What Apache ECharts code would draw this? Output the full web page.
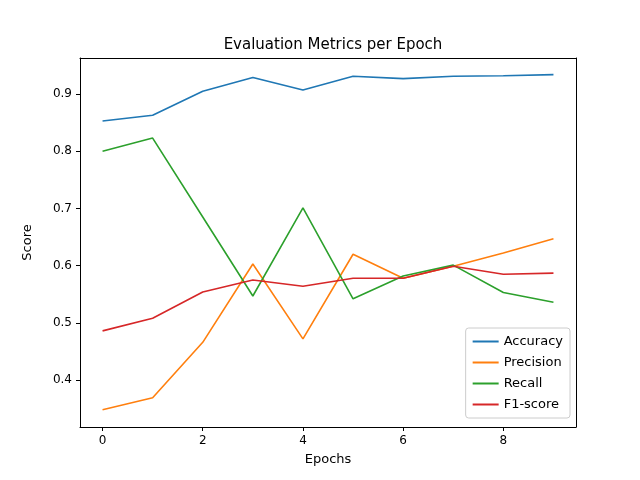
<!DOCTYPE html>
<html>
<head>
<meta charset="utf-8">
<script src="https://cdn.jsdelivr.net/npm/echarts@6/dist/echarts.min.js"></script>
<style>html,body{margin:0;padding:0;background:#fff}#c{width:640px;height:480px}</style>
</head>
<body>
<div id="c"></div>
<script>
// epochs and metric values
const epochs = [0, 1, 2, 3, 4, 5, 6, 7, 8, 9];
const accuracy = [0.853, 0.863, 0.905, 0.929, 0.907, 0.931, 0.927, 0.931, 0.932, 0.934];
const precision = [0.348, 0.369, 0.466, 0.603, 0.472, 0.620, 0.578, 0.599, 0.622, 0.647];
const recall = [0.800, 0.823, 0.685, 0.547, 0.701, 0.542, 0.582, 0.601, 0.553, 0.536];
const f1 = [0.486, 0.508, 0.554, 0.575, 0.564, 0.578, 0.578, 0.599, 0.585, 0.587];
const xTicks = [0, 2, 4, 6, 8];
const yTicks = [0.4, 0.5, 0.6, 0.7, 0.8, 0.9];

const chart = echarts.init(document.getElementById('c'));
const font = 'DejaVu Sans';
const xMin = -0.45, xMax = 9.45, yMin = 0.318, yMax = 0.963;
const mk = (name, data, color) => ({
    name, type: 'line', data: epochs.map((e, i) => [e, data[i]]),
    showSymbol: false, lineStyle: { width: 1.6, color }, itemStyle: { color }
});
const frame = { show: true, onZero: false, lineStyle: { color: '#000', width: 1 } };
chart.setOption({
    animation: false,
    textStyle: { fontFamily: font },
    title: { text: 'Evaluation Metrics per Epoch', left: 328, top: 33, textAlign: 'center',
        textStyle: { fontFamily: font, fontSize: 15, fontWeight: 'normal', color: '#000' } },
    grid: { left: 80, right: 64, top: 58, bottom: 53 },
    legend: {
        orient: 'vertical', right: 70, bottom: 62, itemWidth: 26, itemHeight: 2, itemGap: 8,
        icon: 'rect', backgroundColor: '#fff', borderColor: '#ccc', borderWidth: 1, borderRadius: 3,
        padding: [7, 7], textStyle: { fontFamily: font, fontSize: 13, color: '#000' }
    },
    xAxis: [{
        type: 'value', min: xMin, max: xMax, name: 'Epochs', nameLocation: 'middle', nameGap: 26,
        nameTextStyle: { fontFamily: font, fontSize: 13, color: '#000' },
        axisLine: frame,
        axisTick: { customValues: xTicks, length: 4, lineStyle: { color: '#000' } },
        axisLabel: { customValues: xTicks, color: '#000', fontSize: 12, fontFamily: font },
        splitLine: { show: false }
    }, {
        type: 'value', position: 'top', min: xMin, max: xMax, axisLine: frame,
        axisTick: { show: false }, axisLabel: { show: false }, splitLine: { show: false }
    }],
    yAxis: [{
        type: 'value', min: yMin, max: yMax, name: 'Score', nameLocation: 'middle', nameGap: 46,
        nameTextStyle: { fontFamily: font, fontSize: 13, color: '#000' },
        axisLine: frame,
        axisTick: { show: true, customValues: yTicks, length: 4, lineStyle: { color: '#000' } },
        axisLabel: { customValues: yTicks, color: '#000', fontSize: 12, fontFamily: font,
            formatter: v => v.toFixed(1) },
        splitLine: { show: false }
    }, {
        type: 'value', position: 'right', min: yMin, max: yMax, axisLine: frame,
        axisTick: { show: false }, axisLabel: { show: false }, splitLine: { show: false }
    }],
    series: [
        mk('Accuracy', accuracy, '#1f77b4'),
        mk('Precision', precision, '#ff7f0e'),
        mk('Recall', recall, '#2ca02c'),
        mk('F1-score', f1, '#d62728')
    ]
});
</script>
</body>
</html>
